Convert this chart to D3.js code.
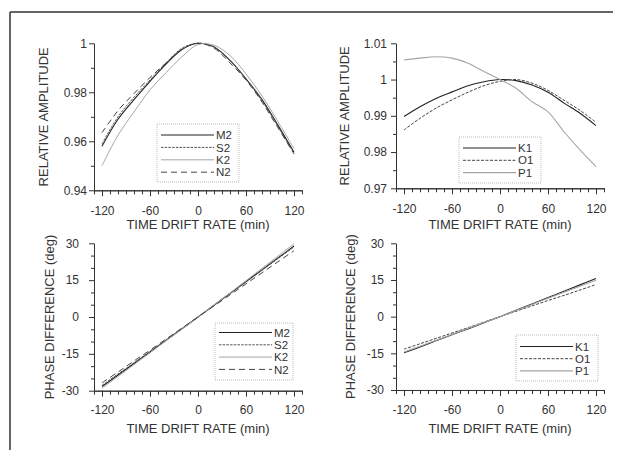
<!DOCTYPE html>
<html lang="en">
<head>
<meta charset="UTF-8">
<title>Drift rate panels</title>
<script src="https://d3js.org/d3.v7.min.js"></script>
<style>
  body { margin: 0; background: #fff; }
  svg { display: block; font-family: "Liberation Sans", Arial, sans-serif; }
  .axis text { font-size: 12px; fill: #333; }
  .axis path, .axis line { stroke: #333; stroke-width: 1; }
  .title { font-size: 13px; fill: #333; }
  .leg text { font-size: 11.5px; fill: #333; }
</style>
</head>
<body>
<svg id="canvas" width="622" height="450"></svg>
<script>
// time drift rate (min)
let driftRate = [-120, -100, -80, -60, -40, -20, 0, 20, 40, 60, 80, 100, 120]

// relative amplitude, semidiurnal
let ampM2 = [0.958, 0.969, 0.977, 0.9845, 0.9915, 0.9975, 1.000, 0.9985, 0.993, 0.9855, 0.977, 0.9665, 0.9555]
let ampS2 = [0.959, 0.970, 0.978, 0.985, 0.992, 0.998, 1.000, 0.9985, 0.993, 0.9855, 0.9765, 0.966, 0.955]
let ampK2 = [0.950, 0.9625, 0.972, 0.981, 0.988, 0.9945, 0.9995, 0.9992, 0.995, 0.9875, 0.9785, 0.968, 0.957]
let ampN2 = [0.9635, 0.9725, 0.9795, 0.986, 0.992, 0.9975, 1.000, 0.998, 0.992, 0.985, 0.976, 0.9655, 0.9548]

// relative amplitude, diurnal
let ampK1 = [0.9898, 0.9925, 0.9948, 0.9966, 0.9983, 0.9994, 1.000, 0.9997, 0.9985, 0.9965, 0.9935, 0.9907, 0.9873]
let ampO1 = [0.9861, 0.9893, 0.9921, 0.9944, 0.9965, 0.9983, 0.9995, 1.000, 0.999, 0.997, 0.9943, 0.9915, 0.9882]
let ampP1 = [1.0054, 1.0059, 1.0063, 1.0059, 1.0045, 1.0022, 1.000, 0.9976, 0.9939, 0.9911, 0.9856, 0.9806, 0.976]

// phase difference (deg)
let phM2 = [-28.3, -23.6, -18.9, -14.2, -9.5, -4.8, 0, 4.8, 9.6, 14.4, 19.2, 24.0, 28.9]
let phS2 = [-27.8, -23.2, -18.6, -14.0, -9.3, -4.7, 0, 4.7, 9.5, 14.2, 19.0, 23.8, 28.5]
let phK2 = [-29.0, -24.2, -19.4, -14.6, -9.7, -4.9, 0, 4.9, 9.8, 14.8, 19.8, 24.8, 29.8]
let phN2 = [-26.8, -22.4, -17.9, -13.5, -9.0, -4.5, 0, 4.5, 9.0, 13.5, 18.0, 22.5, 27.0]
let phK1 = [-14.8, -12.4, -9.9, -7.4, -5.0, -2.5, 0, 2.6, 5.2, 7.8, 10.4, 13.0, 15.6]
let phO1 = [-13.3, -11.1, -8.9, -6.7, -4.5, -2.2, 0, 2.2, 4.4, 6.6, 8.7, 10.9, 13.1]
let phP1 = [-14.5, -12.1, -9.7, -7.3, -4.8, -2.4, 0, 2.5, 5.0, 7.5, 10.0, 12.4, 14.9]

// axis ticks
let xMajor = [-120, -60, 0, 60, 120]
let xMinor = d3.range(-130, 131, 10).filter(d => xMajor.indexOf(d) < 0)
let ampTicksA = [0.94, 0.96, 0.98, 1]
let ampMinorA = [0.95, 0.97, 0.99]
let ampTicksB = [0.97, 0.98, 0.99, 1, 1.01]
let ampMinorB = [0.975, 0.985, 0.995, 1.005]
let phTicks = [-30, -15, 0, 15, 30]
let phMinor = d3.range(-25, 26, 5).filter(d => phTicks.indexOf(d) < 0)

// line styles for each constituent
let styles = {
    M2: { color: '#222', width: 1.1, dash: null },
    S2: { color: '#555', width: 1, dash: '2.5,1.2' },
    K2: { color: '#a6a6a6', width: 1, dash: null },
    N2: { color: '#444', width: 1, dash: '6,4' },
    K1: { color: '#222', width: 1.1, dash: null },
    O1: { color: '#444', width: 1, dash: '3,1.5' },
    P1: { color: '#a6a6a6', width: 1.1, dash: null }
}

let svg = d3.select('#canvas')

// frame of the scanned figure
svg.append('line').attr('x1', 10).attr('y1', 12).attr('x2', 613).attr('y2', 12)
   .attr('stroke', '#333').attr('stroke-width', 1.5)
svg.append('line').attr('x1', 10).attr('y1', 12).attr('x2', 10).attr('y2', 450)
   .attr('stroke', '#333').attr('stroke-width', 1.5)

let drawPanel = (p) => {
    let x = d3.scaleLinear().domain([-130, 130]).range([p.x0, p.x1])
    let y = d3.scaleLinear().domain(p.yDomain).range([p.y1, p.y0])
    let g = svg.append('g')

    // y axis
    g.append('g').attr('class', 'axis')
     .attr('transform', 'translate(' + p.x0 + ',0)')
     .call(d3.axisLeft(y).tickValues(p.yMinor).tickSize(3).tickSizeOuter(0).tickFormat(''))
    g.append('g').attr('class', 'axis')
     .attr('transform', 'translate(' + p.x0 + ',0)')
     .call(d3.axisLeft(y).tickValues(p.yMajor).tickSize(5).tickSizeOuter(0)
            .tickPadding(p.yPad).tickFormat(d => String(d)))

    // x axis
    g.append('g').attr('class', 'axis')
     .attr('transform', 'translate(0,' + p.y1 + ')')
     .call(d3.axisBottom(x).tickValues(xMinor).tickSize(4).tickSizeOuter(0).tickFormat(''))
    g.append('g').attr('class', 'axis')
     .attr('transform', 'translate(0,' + p.y1 + ')')
     .call(d3.axisBottom(x).tickValues(xMajor).tickSize(6).tickSizeOuter(0)
            .tickPadding(p.xPad).tickFormat(d => String(d)))

    // titles
    g.append('text').attr('class', 'title')
     .attr('x', (p.x0 + p.x1) / 2).attr('y', p.xTitleY)
     .attr('text-anchor', 'middle')
     .text('TIME DRIFT RATE (min)')
    g.append('text').attr('class', 'title')
     .attr('transform', 'translate(' + p.yTitleX + ',' + ((p.y0 + p.y1) / 2) + ') rotate(-90)')
     .attr('text-anchor', 'middle')
     .attr('dy', '0.36em')
     .text(p.yTitle)

    // curves
    let line = d3.line()
        .x(d => x(d[0]))
        .y(d => y(d[1]))
        .curve(d3.curveCatmullRom.alpha(0.5))

    p.series.forEach(s => {
        let st = styles[s.name]
        g.append('path')
         .datum(driftRate.map((d, i) => [d, s.values[i]]))
         .attr('d', line)
         .attr('fill', 'none')
         .attr('stroke', st.color)
         .attr('stroke-width', st.width)
         .attr('stroke-dasharray', st.dash)
    })

    // legend
    let lg = g.append('g').attr('class', 'leg')
    lg.append('rect')
      .attr('x', p.leg.x).attr('y', p.leg.y)
      .attr('width', p.leg.w).attr('height', p.leg.h)
      .attr('fill', '#fff')
      .attr('stroke', '#aaa').attr('stroke-width', 0.8)
      .attr('stroke-dasharray', '1,1')
    p.series.forEach((s, i) => {
        let st = styles[s.name]
        let cy = p.leg.firstY + i * p.leg.step
        lg.append('line')
          .attr('x1', p.leg.x + 4).attr('x2', p.leg.x + 57)
          .attr('y1', cy).attr('y2', cy)
          .attr('stroke', st.color)
          .attr('stroke-width', st.width)
          .attr('stroke-dasharray', st.dash)
        lg.append('text')
          .attr('x', p.leg.x + 59).attr('y', cy)
          .attr('dy', '0.36em')
          .text(s.name)
    })
}

let panels = [
    {
        x0: 94, x1: 302, y0: 43.3, y1: 190.3,
        yDomain: [0.94, 1], yMajor: ampTicksA, yMinor: ampMinorA, yPad: 2, xPad: 10,
        xTitleY: 229, yTitleX: 43, yTitle: 'RELATIVE AMPLITUDE',
        series: [{ name: 'M2', values: ampM2 }, { name: 'S2', values: ampS2 },
                 { name: 'K2', values: ampK2 }, { name: 'N2', values: ampN2 }],
        leg: { x: 157, y: 124, w: 82, h: 58, firstY: 135, step: 12.4 }
    },
    {
        x0: 396, x1: 604, y0: 43.3, y1: 188.3,
        yDomain: [0.97, 1.01], yMajor: ampTicksB, yMinor: ampMinorB, yPad: 4, xPad: 10,
        xTitleY: 229, yTitleX: 344, yTitle: 'RELATIVE AMPLITUDE',
        series: [{ name: 'K1', values: ampK1 }, { name: 'O1', values: ampO1 },
                 { name: 'P1', values: ampP1 }],
        leg: { x: 459, y: 137, w: 82, h: 46, firstY: 148, step: 12.3 }
    },
    {
        x0: 94, x1: 302, y0: 243.3, y1: 390.7,
        yDomain: [-30, 30], yMajor: phTicks, yMinor: phMinor, yPad: 10, xPad: 9,
        xTitleY: 433, yTitleX: 49, yTitle: 'PHASE DIFFERENCE (deg)',
        series: [{ name: 'M2', values: phM2 }, { name: 'S2', values: phS2 },
                 { name: 'K2', values: phK2 }, { name: 'N2', values: phN2 }],
        leg: { x: 215, y: 323, w: 78, h: 57, firstY: 332.5, step: 12.3 }
    },
    {
        x0: 396, x1: 604, y0: 243.3, y1: 390,
        yDomain: [-30, 30], yMajor: phTicks, yMinor: phMinor, yPad: 7, xPad: 9,
        xTitleY: 433, yTitleX: 350, yTitle: 'PHASE DIFFERENCE (deg)',
        series: [{ name: 'K1', values: phK1 }, { name: 'O1', values: phO1 },
                 { name: 'P1', values: phP1 }],
        leg: { x: 516, y: 335, w: 82, h: 46, firstY: 346.5, step: 12.2 }
    }
]

panels.forEach(drawPanel)
</script>
</body>
</html>
